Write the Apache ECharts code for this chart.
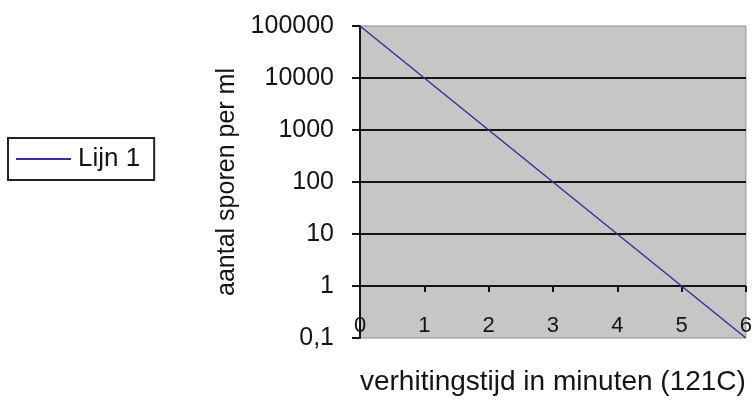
<!DOCTYPE html>
<html>
<head>
<meta charset="utf-8">
<script src="https://cdn.jsdelivr.net/npm/echarts@6/dist/echarts.min.js"></script>
<style>
html,body{margin:0;padding:0;background:#fff;}
#chart{width:755px;height:402px;}
</style>
</head>
<body>
<div id="chart"></div>
<script>
// Data
const minutes = [0, 1, 2, 3, 4, 5, 6];
const spores = [100000, 10000, 1000, 100, 10, 1, 0.1];
const seriesName = 'Lijn 1';
const xTitle = 'verhitingstijd in minuten (121C)';
const yTitle = 'aantal sporen per ml';

const chart = echarts.init(document.getElementById('chart'), null, {renderer: 'canvas'});
const font = '"Liberation Sans", Arial, sans-serif';
const ink = '#141414';
const pairs = minutes.map((m, i) => [m, spores[i]]);

chart.setOption({
  animation: false,
  backgroundColor: '#ffffff',
  textStyle: {fontFamily: font, color: ink},
  legend: {
    left: 8, top: 138,
    orient: 'vertical',
    padding: [8, 14, 8, 8],
    borderColor: '#222',
    borderWidth: 2,
    itemWidth: 55,
    itemHeight: 2,
    icon: 'rect',
    itemGap: 0,
    textStyle: {fontFamily: font, fontSize: 26, color: ink, lineHeight: 26, padding: [0,0,0,2]},
    data: [{name: seriesName, itemStyle: {color: '#333399'}}]
  },
  grid: {
    left: 360, right: 6, top: 26, bottom: 64,
    show: true,
    backgroundColor: '#c6c6c6',
    borderColor: '#8c8c8c',
    borderWidth: 1
  },
  xAxis: {
    type: 'value',
    min: 0, max: 6, interval: 1,
    offset: -52,
    name: xTitle,
    nameLocation: 'middle',
    nameGap: 82,
    nameTextStyle: {fontFamily: font, fontSize: 28, color: ink},
    axisLine: {show: false},
    axisTick: {show: true, length: 6, lineStyle: {color: ink, width: 2}},
    axisLabel: {margin: 29, fontSize: 22, color: ink, fontFamily: font},
    splitLine: {show: false}
  },
  yAxis: {
    type: 'log',
    logBase: 10,
    min: 0.1, max: 100000,
    name: yTitle,
    nameLocation: 'middle',
    nameRotate: 90,
    nameGap: 116,
    nameTextStyle: {fontFamily: font, fontSize: 25, color: ink},
    axisLine: {show: true, lineStyle: {color: ink, width: 2}},
    axisTick: {show: true, length: 8, lineStyle: {color: ink, width: 2}},
    axisLabel: {
      margin: 26, fontSize: 25, color: ink, fontFamily: font,
      formatter: v => String(Number(Number(v).toPrecision(6))).replace('.', ',')
    },
    splitLine: {show: true, showMinLine: false, showMaxLine: false, lineStyle: {color: ink, width: 2}}
  },
  series: [{
    name: seriesName,
    type: 'line',
    data: pairs,
    symbol: 'none',
    lineStyle: {color: '#333399', width: 1.5},
    itemStyle: {color: '#333399'}
  }]
});
</script>
</body>
</html>
